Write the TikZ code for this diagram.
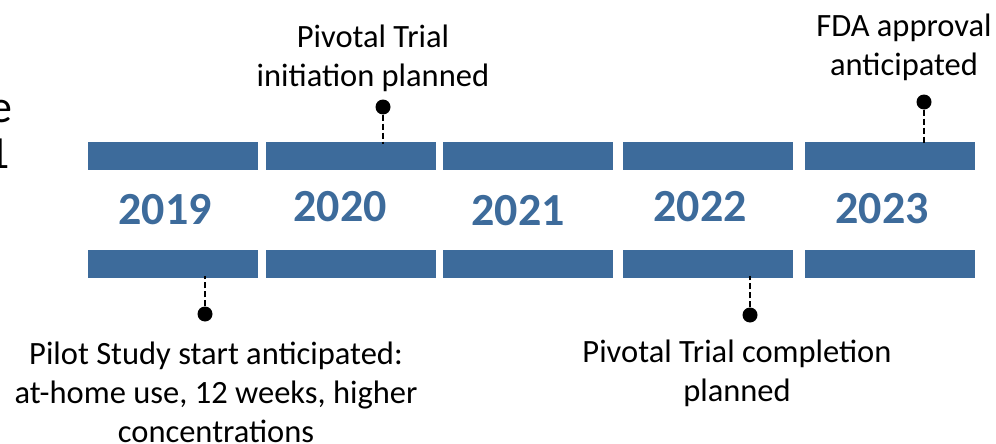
\documentclass[tikz,border=0pt]{standalone}
\usepackage{fontspec}
\setmainfont{Carlito}
\definecolor{barblue}{HTML}{3D6B9B}
\begin{document}
\begin{tikzpicture}[x=1pt,y=-1pt,
  bar/.style={fill=barblue,draw=none},
  year/.style={font=\fontsize{46}{50}\selectfont\bfseries,text=barblue,inner sep=0pt},
  label/.style={font=\fontsize{32.5}{39}\selectfont,align=center,inner sep=0pt,text=black},
  cut/.style={font=\fontsize{46}{50}\selectfont,inner sep=0pt,text=black,anchor=base east},
  dot/.style={circle,fill=black,minimum size=15pt,inner sep=0pt},
  conn/.style={line width=2.8pt,dash pattern=on 6pt off 3pt}]
\useasboundingbox (0,0) rectangle (996,444);
% cut-off text at left
\node[cut] (cutA) at (13,122) {e};
\node[cut] (cutB) at (10,168) {1};
% bars
\foreach \i/\a/\b in {1/88/258,2/266/436,3/443/613,4/623/793,5/805/975}{
  \fill[bar] (\a,142) rectangle (\b,170);
  \fill[bar] (\a,250) rectangle (\b,278);
}
\coordinate (t2) at (383,144);
\coordinate (t5) at (924,144);
\coordinate (b1) at (205,276);
\coordinate (b4) at (750,276);
% years
\node[year] (y19) at (165,210) {2019};
\node[year] (y20) at (340,207) {2020};
\node[year] (y21) at (518,211) {2021};
\node[year] (y22) at (700,207) {2022};
\node[year] (y23) at (882,209) {2023};
% markers
\node[dot] (d2) at (383,107) {};
\node[dot] (d5) at (924,102) {};
\node[dot] (d1) at (205,314) {};
\node[dot] (d4) at (750,315) {};
\draw[conn] (d2) -- (t2);
\draw[conn] (d5) -- (t5);
\draw[conn] (d1) -- (b1);
\draw[conn] (d4) -- (b4);
% labels
\node[label] (l2) at (373,58) {Pivotal Trial\\initiation planned};
\node[label] (l5) at (904,47) {FDA approval\\anticipated};
\node[label] (l1) at (216,392) {Pilot Study start anticipated:\\at-home use, 12 weeks, higher\\concentrations};
\node[label] (l4) at (737,373) {Pivotal Trial completion\\planned};
\end{tikzpicture}
\end{document}
